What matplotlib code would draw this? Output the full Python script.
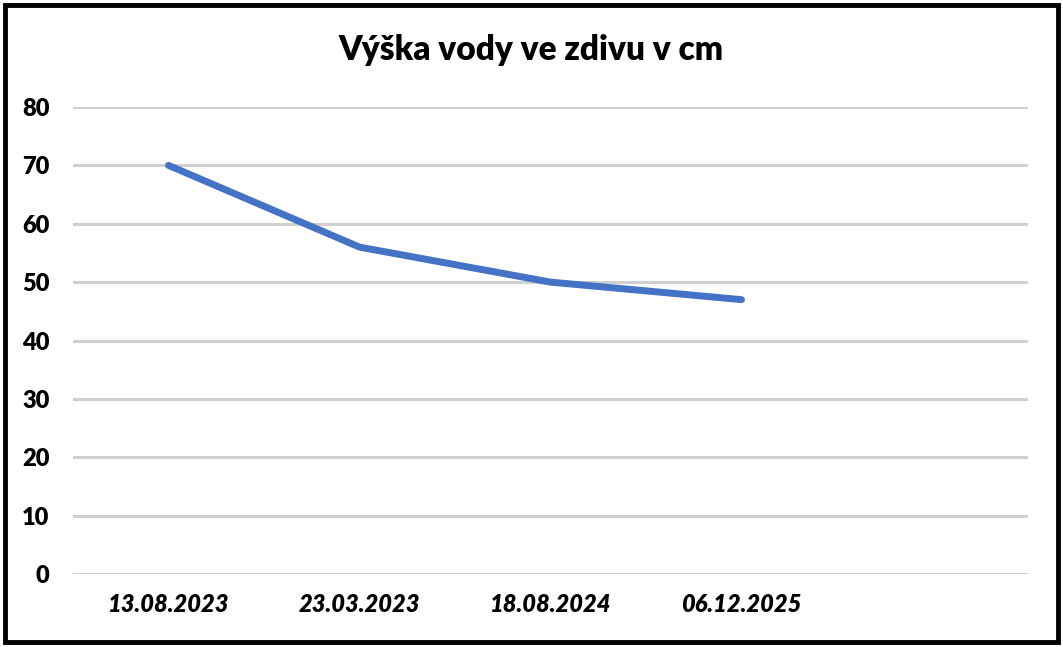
import matplotlib.pyplot as plt
from matplotlib.patches import Rectangle

# data
dates = ["13.08.2023", "23.03.2023", "18.08.2024", "06.12.2025", ""]
heights = [70, 56, 50, 47]
y_ticks = [0, 10, 20, 30, 40, 50, 60, 70, 80]

plt.rcParams['font.family'] = ['Lato', 'DejaVu Sans']

fig = plt.figure(figsize=(10.63, 6.47), dpi=100)
ax = fig.add_axes([73/1063, 1-574/647, 955/1063, 467/647])

x = list(range(len(heights)))
ax.plot(x, heights, color="#4472C4", linewidth=5, solid_capstyle="round", solid_joinstyle="round", zorder=3)

ax.set_xlim(-0.5, len(dates) - 0.5)
ax.set_ylim(0, 80)
ax.set_yticks(y_ticks)
ax.set_xticks(range(len(dates)))
ax.set_xticklabels(dates, fontsize=17, fontweight="heavy", fontstyle="italic")
ax.set_yticklabels([str(v) for v in y_ticks], fontsize=17, fontweight="heavy")
ax.tick_params(axis="both", length=0)
ax.tick_params(axis="y", pad=17)
ax.tick_params(axis="x", pad=14)

ax.grid(axis="y", color="#D0D0D0", linewidth=2.2)
ax.set_axisbelow(True)
for s in ax.spines.values():
    s.set_visible(False)

fig.text(0.5, 1-50/647, "Výška vody ve zdivu v cm", ha="center", va="center",
         fontsize=24, fontweight="heavy")

fig.patches.append(Rectangle((5/1063, 5/647), 1053/1063, 637/647, transform=fig.transFigure,
                             fill=False, edgecolor="black", linewidth=3.5))

plt.savefig("out.png", dpi=100)
